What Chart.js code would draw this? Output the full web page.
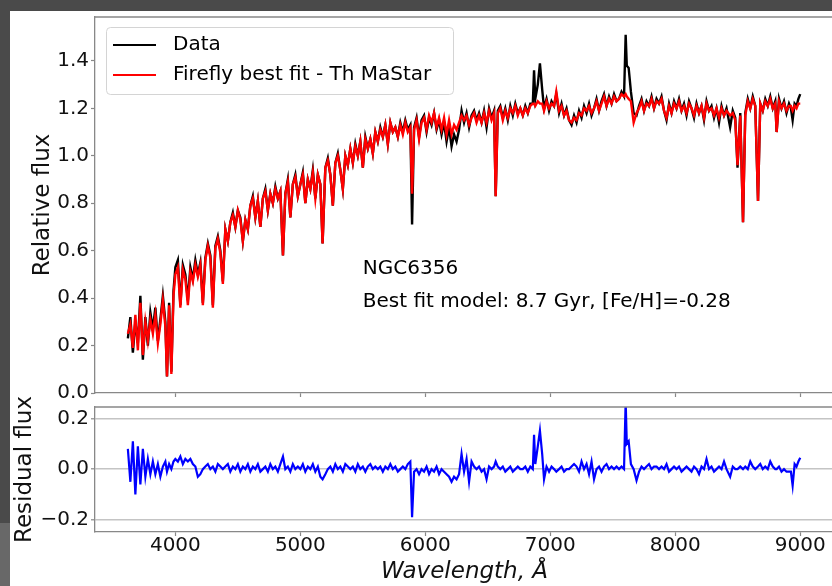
<!DOCTYPE html>
<html>
<head>
<meta charset="utf-8">
<script src="https://cdn.jsdelivr.net/npm/chart.js@4.4.1/dist/chart.umd.min.js"></script>
<style>
  body { margin: 0; width: 832px; height: 586px; overflow: hidden; background: #4a4a4a; position: relative; }
  #paper { position: absolute; left: 10px; top: 11px; right: 0; bottom: 0; background: #fff; }
  #strip { position: absolute; left: 0; top: 523px; width: 10px; height: 63px; background: #686868; }
  canvas { position: absolute; left: 0; }
  #main { top: 0; }
  #resid { top: 388px; }
</style>
</head>
<body>
<div id="paper"></div>
<div id="strip"></div>
<canvas id="main" width="840" height="400"></canvas>
<canvas id="resid" width="840" height="198"></canvas>
<script>
// wavelength (Angstrom)
const wave = [
  3620,3640,3660,3680,3700,3720,3740,3760,3780,3800,
  3820,3840,3860,3880,3900,3920,3933,3950,3968,3985,
  4000,4020,4040,4060,4080,4100,4120,4140,4160,4180,
  4200,4220,4240,4260,4280,4300,4320,4340,4360,4380,
  4400,4420,4440,4460,4480,4500,4520,4540,4560,4580,
  4600,4620,4640,4660,4680,4700,4720,4740,4760,4780,
  4800,4820,4840,4861,4880,4900,4920,4940,4960,4980,
  5000,5020,5040,5060,5080,5100,5120,5140,5160,5178,
  5200,5220,5240,5260,5280,5300,5320,5340,5360,5380,
  5400,5420,5440,5460,5480,5500,5520,5540,5560,5580,
  5600,5620,5640,5660,5680,5700,5720,5740,5760,5780,
  5800,5820,5840,5860,5880,5894,5910,5930,5950,5970,
  5990,6010,6030,6050,6070,6090,6110,6130,6150,6170,
  6190,6210,6230,6250,6270,6290,6310,6330,6350,6370,
  6390,6410,6430,6450,6470,6490,6510,6530,6550,6563,
  6580,6600,6620,6640,6660,6680,6700,6720,6740,6760,
  6780,6800,6820,6840,6860,6870,6880,6900,6917,6935,
  6950,6970,6990,7010,7030,7048,7070,7090,7110,7130,
  7150,7170,7190,7210,7230,7250,7270,7290,7310,7330,
  7350,7370,7390,7410,7430,7450,7470,7490,7510,7530,
  7550,7570,7590,7603,7612,7627,7645,7667,7690,7710,
  7730,7750,7770,7790,7810,7830,7850,7870,7890,7910,
  7930,7950,7970,7990,8010,8030,8050,8070,8090,8110,
  8130,8150,8170,8190,8210,8230,8250,8270,8290,8310,
  8330,8350,8370,8390,8410,8439,8460,8480,8498,8520,
  8542,8560,8580,8600,8620,8640,8662,8680,8700,8720,
  8740,8760,8780,8800,8811,8830,8850,8870,8890,8910,
  8925,8939,8955,8970,8985,9000
];

// observed spectrum
const dataFlux = [
  0.23,0.32,0.17,0.30,0.21,0.41,0.14,0.32,0.20,0.34,
  0.27,0.36,0.22,0.31,0.41,0.30,0.07,0.38,0.09,0.43,
  0.53,0.56,0.37,0.54,0.50,0.39,0.53,0.48,0.56,0.50,
  0.55,0.38,0.57,0.63,0.58,0.37,0.62,0.66,0.60,0.47,
  0.69,0.64,0.72,0.76,0.70,0.77,0.74,0.64,0.73,0.69,
  0.79,0.83,0.74,0.81,0.70,0.82,0.86,0.77,0.84,0.80,
  0.87,0.82,0.85,0.58,0.84,0.90,0.74,0.88,0.92,0.83,
  0.88,0.93,0.80,0.90,0.86,0.94,0.82,0.92,0.88,0.63,
  0.95,0.99,0.92,0.79,0.97,1.01,0.94,0.86,1.00,0.96,
  1.03,0.97,1.05,1.00,1.06,0.95,1.08,1.03,1.07,1.01,
  1.10,1.06,1.12,1.08,1.13,1.05,1.14,1.10,1.12,1.08,
  1.14,1.10,1.15,1.11,1.13,0.71,1.12,1.16,1.08,1.15,
  1.17,1.10,1.16,1.13,1.18,1.11,1.15,1.09,1.14,1.06,
  1.12,1.04,1.09,1.06,1.11,1.19,1.14,1.18,1.12,1.17,
  1.19,1.15,1.18,1.14,1.19,1.12,1.20,1.16,1.19,0.83,
  1.19,1.21,1.16,1.20,1.15,1.21,1.17,1.22,1.18,1.20,
  1.17,1.21,1.18,1.22,1.22,1.36,1.24,1.30,1.39,1.28,
  1.20,1.24,1.19,1.23,1.21,1.26,1.18,1.22,1.17,1.20,
  1.15,1.13,1.17,1.14,1.19,1.16,1.21,1.18,1.22,1.17,
  1.20,1.24,1.19,1.23,1.26,1.21,1.25,1.22,1.26,1.23,
  1.24,1.27,1.25,1.51,1.38,1.37,1.27,1.18,1.17,1.21,
  1.24,1.19,1.23,1.21,1.25,1.20,1.24,1.22,1.25,1.19,
  1.15,1.22,1.18,1.23,1.20,1.24,1.19,1.22,1.17,1.23,
  1.20,1.16,1.22,1.18,1.21,1.15,1.23,1.19,1.21,1.16,
  1.20,1.14,1.21,1.17,1.20,1.12,1.19,1.16,0.95,1.18,
  0.72,1.18,1.24,1.20,1.25,1.21,0.81,1.22,1.19,1.24,
  1.21,1.25,1.20,1.23,1.10,1.24,1.20,1.23,1.18,1.22,
  1.20,1.15,1.22,1.21,1.24,1.26
];

// Firefly best fit model
const modelFlux = [
  0.25,0.29,0.19,0.33,0.18,0.38,0.16,0.30,0.22,0.31,
  0.25,0.33,0.21,0.29,0.39,0.28,0.07,0.37,0.08,0.41,
  0.50,0.53,0.36,0.52,0.48,0.37,0.51,0.47,0.54,0.49,
  0.54,0.37,0.56,0.62,0.57,0.36,0.61,0.65,0.59,0.46,
  0.69,0.64,0.72,0.75,0.70,0.77,0.73,0.64,0.73,0.69,
  0.79,0.82,0.74,0.81,0.70,0.82,0.85,0.77,0.84,0.80,
  0.86,0.82,0.85,0.58,0.84,0.89,0.74,0.88,0.91,0.83,
  0.88,0.92,0.80,0.90,0.86,0.93,0.82,0.92,0.88,0.63,
  0.95,0.98,0.92,0.79,0.97,1.00,0.94,0.86,1.00,0.96,
  1.03,0.97,1.04,1.00,1.06,0.95,1.07,1.03,1.07,1.01,
  1.10,1.06,1.11,1.08,1.13,1.05,1.14,1.10,1.12,1.08,
  1.13,1.09,1.14,1.10,1.12,0.84,1.11,1.15,1.07,1.14,
  1.16,1.11,1.17,1.14,1.18,1.12,1.16,1.11,1.16,1.09,
  1.15,1.09,1.13,1.11,1.14,1.17,1.15,1.17,1.13,1.16,
  1.18,1.14,1.17,1.14,1.18,1.14,1.19,1.15,1.18,0.83,
  1.18,1.20,1.15,1.19,1.16,1.20,1.18,1.21,1.17,1.20,
  1.17,1.20,1.18,1.21,1.22,1.22,1.21,1.23,1.22,1.22,
  1.19,1.23,1.20,1.22,1.21,1.27,1.19,1.21,1.17,1.19,
  1.15,1.14,1.16,1.15,1.18,1.17,1.20,1.19,1.21,1.18,
  1.20,1.23,1.19,1.22,1.25,1.21,1.24,1.22,1.25,1.23,
  1.24,1.26,1.25,1.26,1.25,1.24,1.23,1.14,1.18,1.20,
  1.23,1.19,1.22,1.21,1.24,1.20,1.23,1.22,1.24,1.19,
  1.16,1.21,1.18,1.22,1.20,1.23,1.19,1.21,1.18,1.22,
  1.20,1.17,1.21,1.18,1.21,1.16,1.22,1.19,1.20,1.17,
  1.20,1.16,1.20,1.17,1.19,1.17,1.18,1.15,0.96,1.17,
  0.72,1.17,1.23,1.20,1.24,1.21,0.81,1.22,1.19,1.23,
  1.21,1.24,1.20,1.22,1.10,1.23,1.20,1.22,1.19,1.21,
  1.21,1.19,1.21,1.20,1.22,1.22
];

// residual (lower panel)
const residFlux = [
  0.08,-0.05,0.11,-0.10,0.09,-0.06,0.08,-0.03,0.04,-0.02,
  0.03,-0.02,0.02,-0.03,0.01,0.03,-0.01,0.02,0.00,0.03,
  0.04,0.03,0.05,0.02,0.04,0.03,0.04,0.02,0.01,-0.03,
  -0.02,0.00,0.01,0.02,0.00,0.01,-0.01,0.02,0.01,0.00,
  0.01,0.02,-0.01,0.01,0.00,0.02,-0.01,0.01,0.00,0.02,
  -0.01,0.01,0.00,0.02,-0.01,0.00,0.01,-0.01,0.02,0.00,
  0.01,-0.01,0.02,0.05,0.00,0.01,-0.01,0.02,0.00,0.01,
  0.00,0.02,-0.01,0.01,0.00,0.02,-0.01,0.01,-0.03,-0.04,
  -0.02,0.00,0.01,-0.01,0.02,0.00,0.01,-0.01,0.02,0.01,
  0.00,0.01,-0.01,0.02,0.00,0.01,-0.01,0.01,0.02,0.00,
  0.01,0.00,0.01,-0.01,0.01,0.00,0.02,0.00,0.01,-0.01,
  0.00,0.01,0.00,0.02,0.03,-0.19,-0.01,0.00,-0.02,0.00,
  -0.01,0.01,-0.02,0.00,-0.01,0.01,-0.02,0.00,-0.01,-0.02,
  -0.03,-0.05,-0.03,-0.04,-0.02,0.06,-0.01,0.04,-0.05,0.03,
  0.01,0.00,0.01,-0.01,0.00,-0.04,0.01,0.00,0.01,0.03,
  0.01,0.00,0.01,-0.01,0.00,0.01,-0.01,0.00,0.01,0.00,
  0.00,0.01,-0.01,0.01,0.00,0.135,0.02,0.09,0.152,0.06,
  -0.04,0.01,-0.01,0.01,0.00,-0.01,0.00,0.01,-0.01,0.00,
  0.00,0.01,0.02,0.01,-0.01,0.03,0.00,0.02,-0.02,0.03,
  -0.04,0.00,0.01,-0.01,0.01,0.02,0.00,0.01,0.00,0.01,
  0.00,0.01,0.00,0.27,0.10,0.11,0.02,0.00,-0.045,-0.01,
  0.01,0.00,0.01,0.02,0.00,0.01,0.01,0.00,0.01,0.00,
  0.02,-0.01,0.00,0.01,0.00,0.01,-0.01,0.00,0.01,0.00,
  -0.01,0.01,0.00,-0.02,0.01,0.00,0.04,0.00,0.01,-0.01,
  0.00,0.01,0.00,0.03,0.00,-0.03,0.01,0.00,0.00,0.01,
  0.00,0.01,0.00,0.03,0.01,0.00,0.01,0.02,0.00,0.01,
  0.00,0.03,0.01,0.00,0.00,0.01,-0.01,0.00,-0.01,-0.01,
  -0.01,-0.065,0.02,0.01,0.03,0.045
];

const xTicks = [4000, 5000, 6000, 7000, 8000, 9000];
const mainTicks = [0.0, 0.2, 0.4, 0.6, 0.8, 1.0, 1.2, 1.4];
const residTicks = [-0.2, 0.0, 0.2];
const seriesNames = ["Data", "Firefly best fit - Th MaStar"];
const noteLines = ["NGC6356", "Best fit model: 8.7 Gyr, [Fe/H]=-0.28"];

const spine = "#888888";
Chart.defaults.font.family = "'DejaVu Sans', sans-serif";
Chart.defaults.color = "#111";
Chart.defaults.animation = false;

function pts(ys) {
  return wave.map((w, i) => ({x: w, y: ys[i]}));
}

// top/right spine (matplotlib box)
const frame = {
  id: "frame",
  afterDraw(chart) {
    const a = chart.chartArea, c = chart.ctx;
    c.save();
    c.strokeStyle = spine;
    c.lineWidth = 1.3;
    c.beginPath();
    c.moveTo(a.left, a.top);
    c.lineTo(a.right, a.top);
    c.lineTo(a.right, a.bottom);
    c.stroke();
    c.restore();
  }
};

// legend box and text notes on the main panel
const extras = {
  id: "extras",
  afterDraw(chart) {
    const c = chart.ctx;
    const ds = chart.data.datasets;
    c.save();
    c.fillStyle = "rgba(255,255,255,0.8)";
    c.strokeStyle = "#d4d4d4";
    c.lineWidth = 1;
    c.beginPath();
    c.roundRect(106.5, 27.5, 347, 67, 4);
    c.fill();
    c.stroke();
    c.font = "20px 'DejaVu Sans'";
    c.textBaseline = "middle";
    for (let i = 0; i < ds.length; i++) {
      const y = 45 + i * 30;
      c.strokeStyle = ds[i].borderColor;
      c.lineWidth = 2;
      c.beginPath();
      c.moveTo(113, y);
      c.lineTo(156, y);
      c.stroke();
      c.fillStyle = "#000";
      c.fillText(ds[i].label, 173, y);
    }
    const xs = chart.scales.x, ys = chart.scales.y;
    c.textBaseline = "alphabetic";
    c.fillText(noteLines[0], xs.getPixelForValue(5500), ys.getPixelForValue(0.5));
    c.fillText(noteLines[1], xs.getPixelForValue(5500), ys.getPixelForValue(0.363));
    c.restore();
  }
};

const xBase = {
  type: "linear",
  min: 3357,
  max: 9270,
  afterBuildTicks: s => { s.ticks = xTicks.map(v => ({value: v})); },
  border: {color: spine, width: 1.3},
  grid: {drawOnChartArea: false, drawTicks: true, tickLength: 4, tickColor: spine, tickWidth: 1.2}
};

function fixY(s) {
  s.width = 95;
  s.paddingTop = 0;
  s.paddingBottom = 0;
}

new Chart(document.getElementById("main"), {
  type: "line",
  data: {
    datasets: [
      {label: seriesNames[0], data: pts(dataFlux), borderColor: "#000000", borderWidth: 2.4, pointRadius: 0, order: 2},
      {label: seriesNames[1], data: pts(modelFlux), borderColor: "#ff0000", borderWidth: 2.4, pointRadius: 0, order: 1}
    ]
  },
  options: {
    responsive: false,
    layout: {padding: {top: 17, right: 6, left: 0, bottom: 0}},
    plugins: {legend: {display: false}, tooltip: {enabled: false}},
    scales: {
      x: Object.assign({}, xBase, {
        ticks: {display: false},
        afterFit: s => { s.height = 7; s.paddingLeft = 0; s.paddingRight = 0; }
      }),
      y: {
        min: 0,
        max: 1.585,
        afterBuildTicks: s => { s.ticks = mainTicks.map(v => ({value: v})); },
        afterFit: fixY,
        border: {color: spine, width: 1.3},
        grid: {drawOnChartArea: false, tickLength: 4, tickColor: spine, tickWidth: 1.2},
        ticks: {font: {size: 20}, padding: 2, callback: v => v.toFixed(1)},
        title: {display: true, text: "Relative flux", font: {size: 23}, padding: {top: 29}}
      }
    }
  },
  plugins: [frame, extras]
});

new Chart(document.getElementById("resid"), {
  type: "line",
  data: {
    datasets: [
      {label: "Residual", data: pts(residFlux), borderColor: "#0000ff", borderWidth: 2.2, pointRadius: 0}
    ]
  },
  options: {
    responsive: false,
    layout: {padding: {top: 19, right: 6, left: 0, bottom: 0}},
    plugins: {legend: {display: false}, tooltip: {enabled: false}},
    scales: {
      x: Object.assign({}, xBase, {
        ticks: {font: {size: 20}, padding: -2, maxRotation: 0, callback: v => String(v)},
        afterFit: s => { s.height = 54; s.paddingLeft = 0; s.paddingRight = 0; },
        title: {display: true, text: "Wavelength, Å", font: {size: 23, style: "italic"}, padding: {top: 0, bottom: 0}}
      }),
      y: {
        min: -0.248,
        max: 0.245,
        afterBuildTicks: s => { s.ticks = residTicks.map(v => ({value: v})); },
        afterFit: fixY,
        border: {color: spine, width: 1.3},
        grid: {color: "#c4c4c4", lineWidth: 1.6, tickLength: 4, tickColor: spine, tickWidth: 1.2},
        ticks: {font: {size: 20}, padding: 2, callback: v => (v < 0 ? "\u2212" : "") + Math.abs(v).toFixed(1)},
        title: {display: true, text: "Residual flux", font: {size: 23}, padding: {top: 11}}
      }
    }
  },
  plugins: [frame]
});
</script>
</body>
</html>
